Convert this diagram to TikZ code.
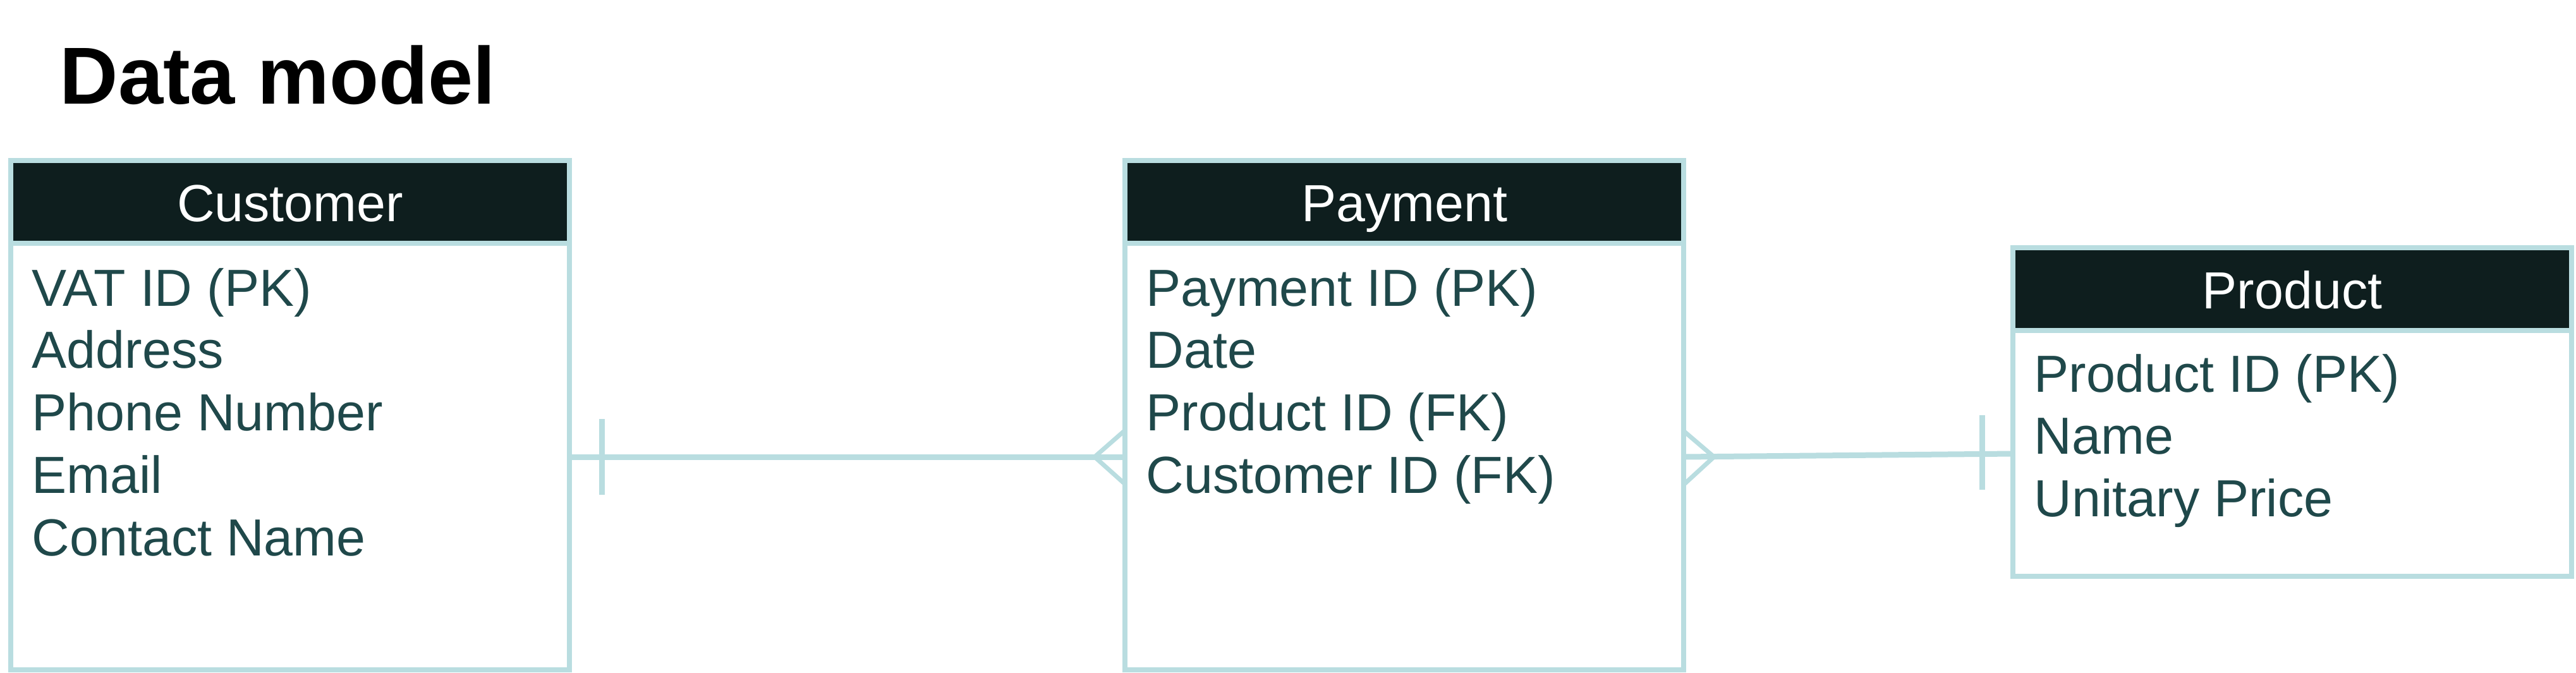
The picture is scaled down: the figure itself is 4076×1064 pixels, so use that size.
\documentclass[tikz,border=0pt]{standalone}
\usepackage{fontspec}
\setmainfont{Liberation Sans}
\usepackage{tikz}
\usetikzlibrary{calc}
\definecolor{edge}{RGB}{185,221,224}
\definecolor{headbg}{RGB}{14,30,30}
\definecolor{attrtxt}{RGB}{31,72,74}
\newcommand{\attrfont}{\fontsize{23.5pt}{28pt}\selectfont}
\newcommand{\titlefont}{\fontsize{36.4pt}{40pt}\selectfont\bfseries}

\begin{document}
\begin{tikzpicture}[x=0.1mm, y=-0.1mm,
    box/.style={draw=edge, line width=0.8mm, fill=white, anchor=north west,
      inner sep=0pt, outer sep=0pt, minimum width=88.4mm},
    head/.style={box, fill=headbg, minimum height=13.1mm, text=white,
      font=\attrfont, text height=6.1mm, text depth=0pt},
    attr/.style={anchor=base west, inner sep=0pt, text=attrtxt, font=\attrfont},
    link/.style={draw=edge, line width=0.9mm},
    prong/.style={draw=edge, line width=0.7mm}]
  \useasboundingbox (0,0) rectangle (4076,1064);
  \node[anchor=base west, inner sep=0pt, font=\titlefont] (title) at (94,164) {Data model};
  % entity 1: customer
  \node[box, minimum height=80.6mm] (customer) at (17,254) {};
  \node[head] (customer-head) at (17,254) {Customer};
  \foreach \a [count=\i from 0] in {VAT ID (PK), Address, Phone Number, Email, Contact Name}
    \node[attr] (customer-\i) at (50,484+98.8*\i) {\a};
  % entity 2: payment
  \node[box, minimum height=80.6mm] (payment) at (1780,254) {};
  \node[head] (payment-head) at (1780,254) {Payment};
  \foreach \a [count=\i from 0] in {Payment ID (PK), Date, Product ID (FK), Customer ID (FK)}
    \node[attr] (payment-\i) at (1813,484+98.8*\i) {\a};
  % entity 3: product
  \node[box, minimum height=52mm] (product) at (3185,392) {};
  \node[head] (product-head) at (3185,392) {Product};
  \foreach \a [count=\i from 0] in {Product ID (PK), Name, Unitary Price}
    \node[attr] (product-\i) at (3218,620+98.8*\i) {\a};
  % relation levels
  \coordinate (rel-cp) at (0,723);
  \coordinate (rel-pr) at (0,718);
  % customer one -- many payment
  \draw[link] (customer.east |- rel-cp) -- (payment.west |- rel-cp);
  \draw[link] ($(customer.east |- rel-cp)+(51,-60)$) -- ($(customer.east |- rel-cp)+(51,60)$);
  \draw[prong] ($(payment.west |- rel-cp)+(0,-42)$) -- ($(payment.west |- rel-cp)+(-48,0)$)
    -- ($(payment.west |- rel-cp)+(0,43)$);
  % payment many -- one product
  \draw[link] (payment.east |- rel-cp) -- (product.west |- rel-pr);
  \draw[prong] ($(payment.east |- rel-cp)+(0,-41)$) -- ($(payment.east |- rel-cp)+(48,0)$)
    -- ($(payment.east |- rel-cp)+(0,44)$);
  \draw[link] ($(product.west |- rel-pr)+(-49,-61)$) -- ($(product.west |- rel-pr)+(-49,57)$);
\end{tikzpicture}
\end{document}
